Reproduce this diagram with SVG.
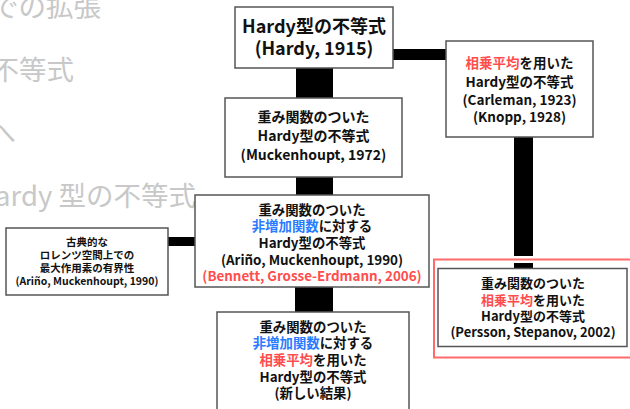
<svg xmlns="http://www.w3.org/2000/svg" width="630" height="409" viewBox="0 0 630 409">
<style>
.bg{font-family:"Noto Sans CJK JP","Noto Sans",sans-serif;font-size:27.5px;fill:#c8c8c8;text-anchor:end}
.box{fill:#fff;stroke:#555;stroke-width:1.5}
.t{font-family:"Noto Sans CJK JP","Noto Sans",sans-serif;font-weight:bold;fill:#111;text-anchor:middle}
.r{fill:#ff4d4d}
.b{fill:#2a7bff}
.c{fill:#000}
</style>
<rect width="630" height="409" fill="#fff"/>
<g id="background-text">
<text class="bg" x="101" y="17">での拡張</text>
<text class="bg" x="74" y="80">不等式</text>
<text class="bg" x="16" y="143">へ</text>
<text class="bg" x="196" y="206">ardy 型の不等式</text>
</g>
<g id="connectors">
<rect class="c" x="296" y="67" width="37" height="32"/>
<rect class="c" x="296" y="176" width="37" height="20"/>
<rect class="c" x="295" y="287" width="38" height="26"/>
<rect class="c" x="393" y="49" width="54" height="11"/>
<rect class="c" x="167" y="237" width="29" height="9"/>
<rect class="c" x="514" y="136" width="19" height="120"/>
<rect class="c" x="514" y="263" width="19" height="6"/>
</g>
<g id="hardy">
<rect class="box" x="235" y="7" width="158" height="61"/>
<text class="t" font-size="18" x="314" y="33">Hardy型の不等式</text>
<text class="t" font-size="18" x="314" y="55">(Hardy, 1915)</text>
</g>
<g id="muckenhoupt">
<rect class="box" x="225" y="98" width="177" height="79"/>
<text class="t" font-size="14" x="313.5" y="122">重み関数のついた</text>
<text class="t" font-size="14" x="313.5" y="141">Hardy型の不等式</text>
<text class="t" font-size="14" x="313.5" y="160">(Muckenhoupt, 1972)</text>
</g>
<g id="carleman">
<rect class="box" x="446" y="41" width="147" height="96"/>
<text class="t" font-size="13.5" x="519.5" y="68"><tspan class="r">相乗平均</tspan>を用いた</text>
<text class="t" font-size="13.5" x="519.5" y="87">Hardy型の不等式</text>
<text class="t" font-size="13.5" x="519.5" y="105">(Carleman, 1923)</text>
<text class="t" font-size="13.5" x="519.5" y="122">(Knopp, 1928)</text>
</g>
<g id="arino">
<rect class="box" x="195" y="195" width="234" height="92"/>
<text class="t" font-size="13.4" x="312" y="215">重み関数のついた</text>
<text class="t" font-size="13.4" x="312" y="231"><tspan class="b">非増加関数</tspan>に対する</text>
<text class="t" font-size="13.4" x="312" y="248">Hardy型の不等式</text>
<text class="t" font-size="13.4" x="312" y="265">(Ariño, Muckenhoupt, 1990)</text>
<text class="t r" font-size="13.4" x="312" y="281">(Bennett, Grosse-Erdmann, 2006)</text>
</g>
<g id="lorentz">
<rect class="box" x="6" y="228" width="162" height="67"/>
<text class="t" font-size="10.5" x="87" y="246">古典的な</text>
<text class="t" font-size="10.5" x="87" y="259">ロレンツ空間上での</text>
<text class="t" font-size="10.5" x="87" y="272">最大作用素の有界性</text>
<text class="t" font-size="10.5" x="87" y="285">(Ariño, Muckenhoupt, 1990)</text>
</g>
<g id="persson">
<rect x="434" y="259.5" width="210" height="98" fill="none" stroke="#ff6b6b" stroke-width="2"/>
<rect class="box" x="438" y="268.5" width="189" height="78"/>
<text class="t" font-size="13" x="533" y="288">重み関数のついた</text>
<text class="t" font-size="13" x="533" y="305"><tspan class="r">相乗平均</tspan>を用いた</text>
<text class="t" font-size="13" x="533" y="321">Hardy型の不等式</text>
<text class="t" font-size="13" x="533" y="337">(Persson, Stepanov, 2002)</text>
</g>
<g id="new-result">
<rect class="box" x="217" y="312" width="192" height="110"/>
<text class="t" font-size="13.4" x="313" y="332">重み関数のついた</text>
<text class="t" font-size="13.4" x="313" y="348"><tspan class="b">非増加関数</tspan>に対する</text>
<text class="t" font-size="13.4" x="313" y="365"><tspan class="r">相乗平均</tspan>を用いた</text>
<text class="t" font-size="13.4" x="313" y="382">Hardy型の不等式</text>
<text class="t" font-size="13.4" x="313" y="398">(新しい結果)</text>
</g>
</svg>
